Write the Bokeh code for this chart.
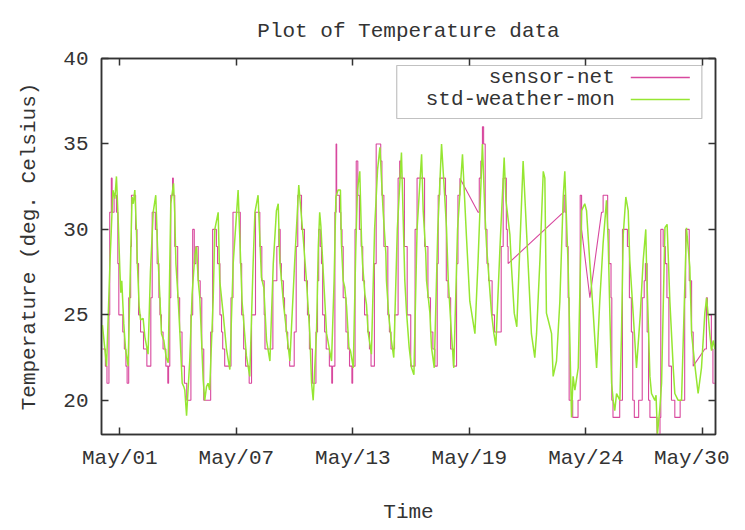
from bokeh.plotting import figure
from bokeh.models import FixedTicker, LinearAxis, BoxAnnotation, Label, Range1d
from bokeh.embed import file_html
from bokeh.resources import INLINE

title_text = "Plot of Temperature data"
x_label = "Time"
y_label = "Temperature (deg. Celsius)"
series_names = ["sensor-net", "std-weather-mon"]

# x is in days of May (May 1 00:00 = 1.0)
tick_days = [1.35, 7.25, 13.15, 19.05, 24.95, 30.85]
tick_labels = ["May/01", "May/07", "May/13", "May/19", "May/24", "May/30"]
y_ticks = [20, 25, 30, 35, 40]

weather_t = [0.47, 0.68, 0.85, 1.00, 1.10, 1.18, 1.27, 1.35, 1.40, 1.45, 1.55, 1.64, 1.77,
             1.87, 1.97, 2.03, 2.11, 2.19, 2.24, 2.33, 2.40, 2.53, 2.62, 2.78,
             2.90, 3.04, 3.17, 3.26, 3.38, 3.46, 3.58, 3.70, 3.80,
             3.93, 4.07, 4.13, 4.19, 4.30, 4.39, 4.51, 4.59, 4.64, 4.73, 4.89, 5.01, 5.15, 5.23,
             5.32, 5.40, 5.49, 5.57, 5.65, 5.74, 5.82, 5.90,
             6.08, 6.16, 6.33, 6.41, 6.58, 6.75, 6.92, 7.09, 7.34, 7.54, 7.76, 7.93,
             8.10, 8.19, 8.35, 8.52, 8.64, 8.78, 8.95, 9.12, 9.28, 9.37, 9.45, 9.65, 9.96,
             10.20, 10.41, 10.63, 10.80, 10.97, 11.06, 11.14, 11.31, 11.40, 11.47, 11.53, 11.65,
             11.82, 12.07, 12.20, 12.29, 12.40, 12.52, 12.57, 12.66, 12.74, 12.83, 12.95, 13.03,
             13.17, 13.30, 13.38, 13.50, 13.59, 13.64, 13.76, 13.84, 13.92, 14.09,
             14.25, 14.40, 14.52, 14.68, 14.82, 14.85, 14.97, 15.10, 15.22,
             15.40, 15.61, 15.78, 15.87, 16.00, 16.12, 16.24,
             16.40, 16.63, 16.71, 16.84, 16.88, 17.05, 17.13, 17.27,
             17.45, 17.64, 17.76, 17.89, 17.98, 18.14, 18.26,
             18.45, 18.70, 18.90, 19.07, 19.33, 19.49, 19.71, 19.83, 19.92, 20.17, 20.29, 20.39,
             20.60, 20.81, 20.90, 21.10, 21.18, 21.32, 21.45, 21.77, 22.03, 22.19, 22.36, 22.45,
             22.62, 22.79, 22.87, 22.95, 23.04, 23.21, 23.29, 23.46, 23.63, 23.80, 23.88,
             24.05, 24.14, 24.22, 24.30, 24.39, 24.56, 24.73, 24.89, 24.98, 25.15, 25.32, 25.49,
             25.65, 25.82, 25.99, 26.08, 26.16, 26.25, 26.33, 26.41, 26.50, 26.67, 26.75, 26.84,
             26.97, 27.09, 27.17, 27.34, 27.51, 27.70, 27.85, 27.98, 28.02, 28.19, 28.27, 28.44,
             28.50, 28.57, 28.69, 28.78, 28.95, 29.06, 29.20, 29.37, 29.45, 29.62, 29.79,
             30.04, 30.21, 30.30, 30.46, 30.63, 30.80, 30.97, 31.06, 31.22, 31.31, 31.39, 31.48]
weather_v = [24.4, 22.0, 28.0, 32.3, 31.8, 33.1, 30.5, 27.7, 26.3, 27.0, 24.5, 23.0, 22.0,
             27.0, 31.9, 31.5, 32.3, 30.0, 28.0, 25.5, 24.7, 24.8, 23.7, 22.7,
             27.5, 31.0, 32.0, 29.0, 26.0, 23.9, 23.5, 22.5, 22.2,
             31.5, 32.7, 31.0, 28.0, 26.0, 24.0, 21.0, 20.8, 20.6, 19.1, 22.3, 26.2, 28.5, 29.0,
             27.0, 26.0, 23.5, 21.2, 20.0, 20.8, 21.0, 20.6,
             26.0, 30.0, 31.0, 27.0, 25.1, 23.0, 21.8, 28.0, 32.3, 25.8, 22.6, 21.4,
             28.0, 31.0, 32.0, 27.2, 26.6, 23.5, 22.3, 28.0, 31.1, 31.5, 28.2, 25.5, 22.3,
             28.0, 32.6, 29.6, 27.0, 23.9, 21.0, 20.0, 24.0, 29.0, 31.0, 30.2, 27.5,
             23.9, 22.3, 27.0, 31.9, 32.3, 32.3, 29.2, 27.0, 26.6, 25.5, 23.1, 22.9,
             21.9, 29.0, 32.3, 33.4, 29.3, 28.0, 26.2, 25.6, 24.0, 22.7,
             30.0, 33.5, 34.8, 31.1, 28.6, 27.0, 24.9, 23.5, 22.5,
             30.0, 34.5, 27.0, 25.1, 23.1, 21.9, 21.5,
             30.0, 34.4, 31.1, 28.6, 27.0, 25.1, 23.1, 21.9,
             30.0, 35.0, 32.7, 30.1, 27.0, 23.9, 21.9,
             30.0, 34.4, 29.6, 25.8, 23.9, 28.2, 35.0, 31.1, 29.0, 25.1, 23.9, 23.2,
             29.0, 34.2, 31.7, 29.7, 27.8, 25.1, 24.3, 34.0, 27.8, 23.9, 22.5, 23.9,
             28.2, 33.4, 33.0, 25.1, 24.7, 23.9, 21.4, 22.3, 25.8, 31.9, 33.4,
             27.8, 23.3, 19.0, 21.4, 20.6, 21.9, 31.1, 31.5, 31.1, 28.0, 25.1, 21.9,
             25.8, 29.2, 31.7, 29.2, 25.1, 21.0, 20.0, 19.4, 20.4, 20.0, 23.9, 29.7,
             31.9, 31.1, 28.2, 25.1, 21.9, 25.0, 28.2, 30.0, 27.8, 21.4, 20.4, 20.0,
             20.3, 18.0, 19.5, 21.0, 30.1, 30.3, 25.8, 21.9, 20.4, 20.0, 20.0,
             30.1, 27.8, 23.9, 22.1, 20.4, 21.9, 25.1, 26.0, 23.9, 22.9, 23.5, 23.0]

# sensor-net readings: time at which the reading changes, and the new value
sensor_t = [0.47, 0.62, 0.70, 0.80, 0.84, 0.92, 0.96, 1.06, 1.18, 1.25, 1.30, 1.50, 1.58, 1.66, 1.72,
            1.80, 1.90, 1.94, 2.15, 2.22, 2.30, 2.40, 2.55, 2.72,
            2.92, 2.99, 3.15, 3.24, 3.33, 3.38, 3.46, 3.54, 3.68, 3.78, 3.82,
            3.88, 3.93, 4.02, 4.06, 4.13, 4.28, 4.38, 4.50, 4.62, 4.74,
            4.95, 5.04, 5.12, 5.20, 5.32, 5.42, 5.50, 5.60,
            5.95, 6.05, 6.24, 6.30, 6.42, 6.50, 6.56, 6.66,
            6.98, 7.08, 7.45, 7.52, 7.62, 7.72, 7.90,
            8.02, 8.22, 8.44, 8.54, 8.66, 8.70,
            9.10, 9.30, 9.40, 9.47, 9.53, 9.63, 9.69, 9.77, 9.85, 9.95,
            10.18, 10.28, 10.36, 10.55, 10.70, 10.85, 10.95, 11.10,
            11.28, 11.36, 11.42, 11.50, 11.56, 11.62, 11.72, 11.80, 11.96, 12.08, 12.12,
            12.24, 12.30, 12.33, 12.47, 12.54, 12.60, 12.66, 12.80, 12.90, 12.98, 13.10, 13.14,
            13.26, 13.32, 13.40, 13.48, 13.57, 13.65, 13.74, 13.90, 13.99, 14.07,
            14.24, 14.33, 14.56, 14.62, 14.72, 14.92, 15.00, 15.08,
            15.26, 15.44, 15.52, 15.58, 15.76, 15.90, 16.08,
            16.30, 16.40, 16.78, 16.95, 17.08, 17.20, 17.30,
            17.42, 17.47, 17.55, 17.84, 17.88, 17.97, 18.10, 18.24,
            18.40, 18.47, 18.57,
            19.49, 19.55, 19.63, 19.71, 19.77, 19.85, 19.94, 20.02, 20.20, 20.32,
            20.66, 20.76, 20.92, 20.97, 21.01,
            23.80, 23.83, 23.90, 23.95, 24.05, 24.10, 24.28, 24.55, 24.66, 24.73,
            25.15,
            25.74, 25.82, 26.05, 26.12, 26.22, 26.26, 26.32, 26.66,
            26.80, 27.05, 27.15, 27.25, 27.32, 27.40, 27.62,
            27.80, 27.90, 27.96, 28.05, 28.12, 28.19, 28.55, 28.70,
            28.74, 28.86, 28.97, 29.05, 29.15, 29.28, 29.45, 29.72,
            29.95, 30.00, 30.18, 30.30, 30.38,
            30.97, 31.05, 31.10, 31.30, 31.38, 31.48]
sensor_v = [23, 22, 21, 25, 31, 33, 31, 32, 31, 28, 25, 24, 23, 22, 21,
            26, 29, 32, 30, 28, 25, 24, 23, 22,
            26, 31, 30, 28, 26, 25, 24, 23, 22, 21, 22,
            26, 32, 33, 32, 29, 26, 24, 22, 21, 20,
            25, 30, 28, 29, 27, 26, 23, 20,
            24, 30, 29, 28, 25, 24, 23, 22,
            26, 31, 28, 25, 23, 22, 21,
            25, 31, 29, 27, 25, 23,
            27, 29, 30, 28, 27, 26, 25, 24, 23, 22,
            24, 29, 32, 30, 27, 25, 23, 21,
            24, 27, 30, 29, 28, 25, 24, 23, 22, 21, 22,
            31, 35, 32, 31, 30, 29, 26, 24, 23, 22, 21, 22,
            30, 34, 32, 30, 29, 27, 25, 24, 23, 22,
            28, 35, 34, 32, 29, 25, 24, 23,
            25, 33, 34, 33, 29, 25, 22,
            30, 33, 29, 26, 24, 23, 22,
            28, 32, 33, 32, 27, 26, 23, 22,
            28, 32, 33,
            31, 33, 34, 36, 35, 30, 28, 27, 25, 24,
            29, 33, 30, 29, 28,
            31, 32, 31, 29, 26, 20, 19, 20, 32, 30,
            26,
            31, 32, 30, 28, 26, 20, 19, 20,
            30, 29, 26, 24, 20, 19, 20,
            26, 27, 28, 24, 20, 19, 17, 19,
            30, 29, 28, 26, 22, 20, 19, 20,
            26, 30, 27, 24, 22,
            23, 26, 25, 23, 21, 21]
# readings after which the logger has a gap (joined by a straight line)
sensor_gap_after = [18.57, 21.01, 24.73, 25.15, 30.38]

# build the staircase path of the sensor readings
gap_set = set(sensor_gap_after)
sx, sy = [], []
for i, (t, v) in enumerate(zip(sensor_t, sensor_v)):
    if i > 0 and sensor_t[i - 1] not in gap_set:
        sx.append(t)
        sy.append(sensor_v[i - 1])
    sx.append(t)
    sy.append(v)

FONT = "Liberation Mono"
INK = "#333333"
PINK = "#d8489e"
GREEN = "#96e632"

p = figure(frame_width=614, frame_height=376,
           min_border_left=101, min_border_right=14, min_border_top=58, min_border_bottom=88,
           x_range=Range1d(0.423, 31.51), y_range=Range1d(18, 40),
           output_backend="svg", toolbar_location=None,
           background_fill_color="white", border_fill_color="white")

p.title.text = title_text
p.title.text_font = FONT
p.title.text_font_size = "21px"
p.title.text_font_style = "normal"
p.title.text_color = INK
p.title.align = "center"
p.title.standoff = 32

p.grid.visible = False
p.outline_line_color = INK
p.outline_line_width = 1.5

xt = FixedTicker(ticks=tick_days)
yt = FixedTicker(ticks=y_ticks)
overrides = {d: lab for d, lab in zip(tick_days, tick_labels)}

p.xaxis.ticker = xt
p.xaxis.major_label_overrides = overrides
p.yaxis.ticker = yt
p.xaxis.axis_label = x_label
p.yaxis.axis_label = y_label

for ax in (p.xaxis[0], p.yaxis[0]):
    ax.axis_line_color = INK
    ax.axis_line_width = 1.5
    ax.major_tick_line_color = INK
    ax.major_tick_line_width = 1.5
    ax.major_tick_in = 7
    ax.major_tick_out = 0
    ax.minor_tick_line_color = None
    ax.major_label_text_font = FONT
    ax.major_label_text_font_size = "21px"
    ax.major_label_text_color = INK
    ax.axis_label_text_font = FONT
    ax.axis_label_text_font_size = "21px"
    ax.axis_label_text_font_style = "normal"
    ax.axis_label_text_color = INK

p.xaxis.major_label_standoff = 12
p.xaxis.axis_label_standoff = 28
p.yaxis.major_label_standoff = 13
p.yaxis.axis_label_standoff = 19

top = LinearAxis(ticker=xt)
right = LinearAxis(ticker=yt)
for ax in (top, right):
    ax.axis_line_color = INK
    ax.axis_line_width = 1.5
    ax.major_tick_line_color = INK
    ax.major_tick_line_width = 1.5
    ax.major_tick_in = 7
    ax.major_tick_out = 0
    ax.minor_tick_line_color = None
    ax.major_label_text_color = None
    ax.major_label_text_font_size = "0px"
    ax.major_label_standoff = 0
p.add_layout(top, "above")
p.add_layout(right, "right")

# key box (gnuplot style: text, then sample), drawn beneath the lines
p.add_layout(BoxAnnotation(left=15.37, right=30.82, top=39.59, bottom=36.49,
                           fill_color="white", fill_alpha=1.0,
                           line_color=INK, line_width=1.2, level="underlay"))

# data
p.line(sx, sy, line_color=PINK, line_width=1.1)
p.line(weather_t, weather_v, line_color=GREEN, line_width=1.5)

key_y = [38.89, 37.60]
for name, ky, col in zip(series_names, key_y, [PINK, GREEN]):
    p.add_layout(Label(x=26.41, y=ky, text=name, text_align="right", text_baseline="middle",
                       text_font=FONT, text_font_size="21px", text_color=INK))
    p.line([27.22, 30.21], [ky, ky], line_color=col, line_width=1.5)

open("out.html", "w").write(file_html(p, INLINE))
